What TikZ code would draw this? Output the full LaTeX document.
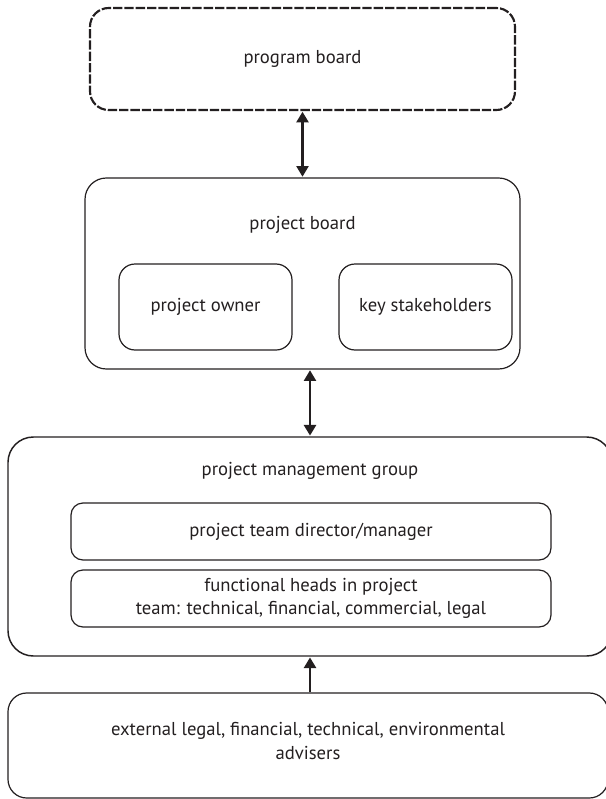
\documentclass[tikz,border=0pt]{standalone}
\usepackage{fontspec}
\setmainfont{PT Sans}
\definecolor{linegray}{RGB}{35, 31, 32}
\usepackage{tikz}
\usetikzlibrary{arrows.meta, positioning}

\begin{document}
\begin{tikzpicture}[x=0.75pt, y=-0.75pt,
    box/.style={draw=linegray, line width=0.9pt, rounded corners=#1, inner sep=0pt, align=center},
    box/.default=14pt,
    txt/.style={text=linegray, font=\fontsize{14}{17.5}\selectfont, align=center, inner sep=0pt},
    link/.style={draw=linegray, line width=1.8pt, {Triangle[length=8pt, width=9pt]}-{Triangle[length=8pt, width=9pt]}, shorten <=0.5pt, shorten >=0.5pt},
    uplink/.style={draw=linegray, line width=1.8pt, -{Triangle[length=8pt, width=9pt]}, shorten >=0.5pt}]
  \useasboundingbox (0,0) rectangle (606,799);

  % Program board
  \node[box=14pt, line width=1.6pt, dash pattern=on 7pt off 1.5pt, minimum width=425*0.75pt, minimum height=102*0.75pt] (prog) at (302.5, 59) {};
  \node[txt] (progtext) at (prog.center) {program board};

  % Project board
  \node[box=16pt, minimum width=435*0.75pt, minimum height=191*0.75pt] (pboard) at (302.5, 273.5) {};
  \node[txt] (pboardtext) at (302.5, 225) {project board};
  \node[box=12pt, minimum width=173*0.75pt, minimum height=86*0.75pt] (owner) at (205.5, 307) {};
  \node[txt] (ownertext) at (owner.center) {project owner};
  \node[box=12pt, minimum width=173*0.75pt, minimum height=86*0.75pt] (stake) at (425.5, 307) {};
  \node[txt] (staketext) at (stake.center) {key stakeholders};

  % Project management group
  \node[box=19pt, line width=1.1pt, minimum width=604*0.75pt, minimum height=219*0.75pt] (pmg) at (310, 546.5) {};
  \node[txt] (pmgtext) at (310, 471) {project management group};
  \node[box=9pt, minimum width=480*0.75pt, minimum height=57*0.75pt] (director) at (311, 531.5) {};
  \node[txt] (directortext) at (director.center) {project team director/manager};
  \node[box=9pt, minimum width=480*0.75pt, minimum height=57*0.75pt] (heads) at (311, 598.5) {};
  \node[txt] (headstext) at (heads.center) {functional heads in project\\team: technical, financial, commercial, legal};

  % External advisers
  \node[box=14pt, minimum width=600*0.75pt, minimum height=105*0.75pt] (ext) at (308, 745.5) {};
  \node[txt] (exttext) at (308, 741) {external legal, financial, technical, environmental\\advisers};

  % Links
  \draw[link] (prog.south) -- (pboard.north);
  \draw[link] (pboard.south -| pmg.north) -- (pmg.north);
  \draw[uplink] (pmg.south |- ext.north) -- (pmg.south);
\end{tikzpicture}
\end{document}
